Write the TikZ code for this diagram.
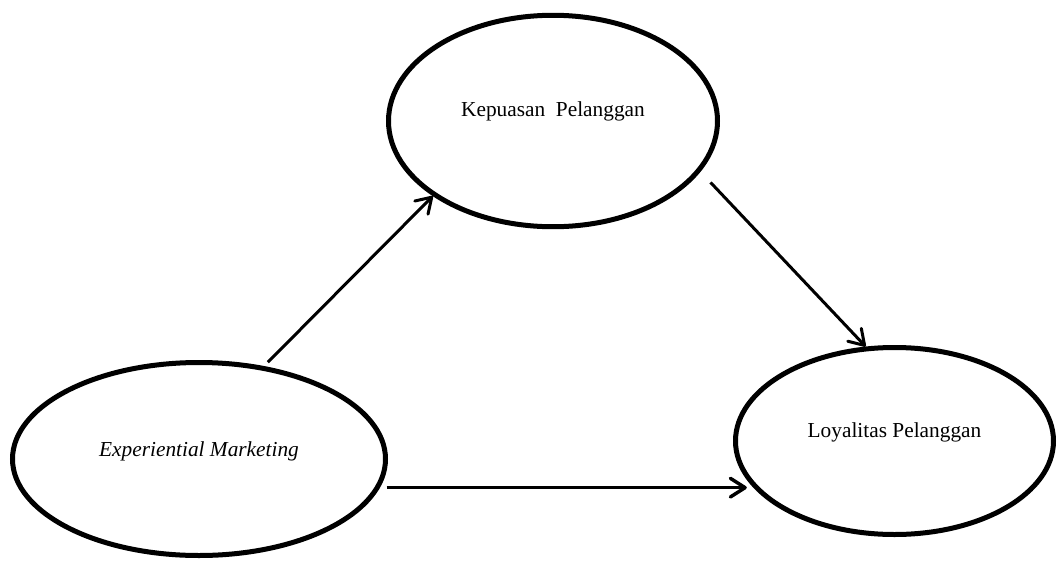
\documentclass[tikz,border=0pt]{standalone}
\usepackage{fontspec}
\setmainfont{Liberation Serif}
\usetikzlibrary{shapes.geometric,arrows.meta}
\tikzset{
  oval/.style={ellipse, draw, line width=3.75pt, inner sep=0pt},
  link/.style={line width=2.25pt, -{Straight Barb[length=11pt,width=14pt,round]}}
}
\begin{document}
\begin{tikzpicture}[x=0.75pt,y=-0.75pt,font=\fontsize{16}{19}\selectfont]
    \useasboundingbox (0,0) rectangle (1058,561);
    % the three variables
    \node[oval, minimum width=246.75pt, minimum height=158.6pt,
          label={[yshift=7.5pt]center:Kepuasan\ \ Pelanggan}] (kp) at (553,121) {};
    \node[oval, minimum width=279.75pt, minimum height=144.75pt,
          label={[yshift=6pt]center:\textit{Experiential Marketing}}] (em) at (199,459) {};
    \node[oval, minimum width=238.5pt, minimum height=140.25pt,
          label={[yshift=6.75pt]center:Loyalitas Pelanggan}] (ly) at (894.5,441) {};
    % paths
    \draw[link, shorten <=4pt] (em.55) -- (kp.212);
    \draw[link, shorten <=11pt] (kp.-19) -- (ly.107);
    \draw[link, line width=2.6pt, shorten <=5pt, shorten >=4.5pt] (em.-9) -- (em.-9 -| ly.198);
\end{tikzpicture}
\end{document}
